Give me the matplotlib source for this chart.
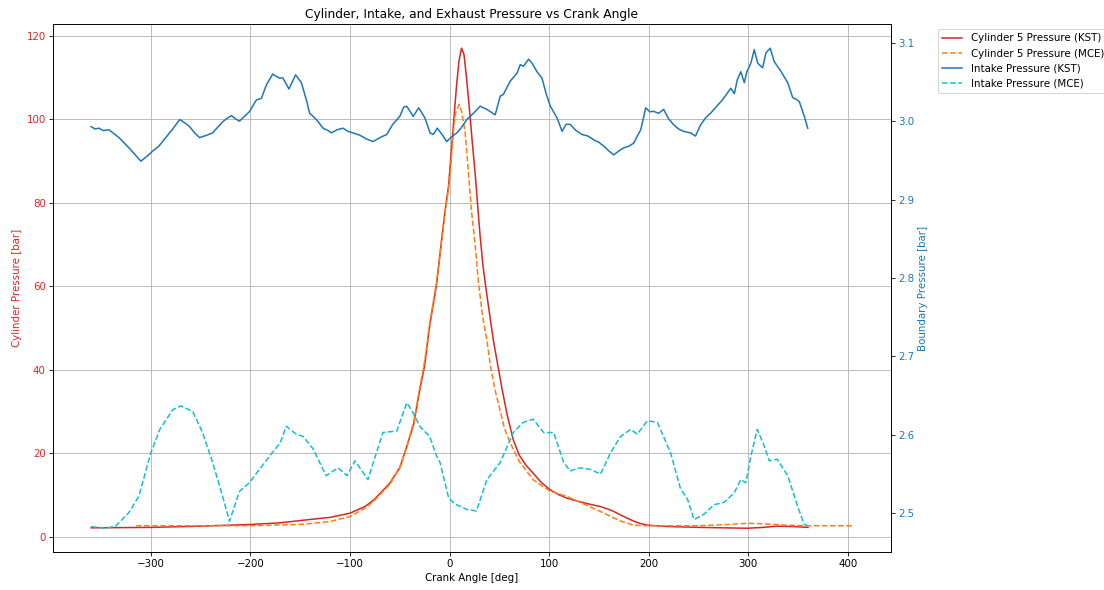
import matplotlib
matplotlib.use("Agg")
import matplotlib.pyplot as plt

# crank angle [deg] / pressure [bar]
cyl_kst_deg = [-360, -300, -250, -200, -170, -144, -120, -100, -85, -76, -60, -50, -43, -36, -30,
               -25, -20, -13, -8, -4.5, -1, 1, 4, 7, 9.5, 12, 14.5, 17, 20.5, 23, 25.7, 28, 30.7,
               33.5, 36.8, 44, 52.6, 58, 64, 70, 77, 84, 92, 101, 110, 118, 130, 140, 151.6, 160, 165,
               175, 185, 192, 200, 220, 252, 275, 299, 315, 329, 345, 360]
cyl_kst_p = [2.1, 2.2, 2.5, 2.9, 3.3, 4.0, 4.6, 5.6, 7.2, 8.8, 12.8, 16.5, 21.5, 27, 35,
             41, 50.5, 60.5, 71, 78, 84, 90, 99, 108, 114, 117, 115.5, 110, 101, 94, 87, 80, 72,
             65, 59, 47, 35.5, 29, 23.2, 19.5, 17, 15.2, 13, 11.2, 10, 9.2, 8.4, 7.8, 7.2, 6.5, 6.0,
             4.8, 3.7, 3.1, 2.7, 2.4, 2.2, 2.1, 2.0, 2.2, 2.5, 2.4, 2.2]

cyl_mce_deg = [-315, -250, -200, -150, -120, -100, -85, -76, -60, -50, -43, -36, -30, -25, -20,
               -13, -8, -4.5, -1.2, 1, 3.8, 6, 9.6, 12, 15.6, 18, 20, 22, 25.7, 29, 33, 37.5, 41,
               45.8, 51, 55, 61, 70, 84, 100, 118, 135, 151.6, 162, 172, 185, 200, 250, 280, 300,
               320, 340, 360, 405]
cyl_mce_p = [2.6, 2.6, 2.6, 2.9, 3.6, 4.8, 6.8, 8.5, 12.5, 16.5, 21.5, 27.5, 35.5, 42, 51,
             61, 71, 78, 83, 88, 97, 101.5, 103.5, 102, 97, 90, 84, 78, 70, 61, 53, 47, 41,
             35, 30, 26, 22.4, 18, 13.6, 11, 9.6, 7.8, 6.0, 4.8, 3.7, 2.7, 2.6, 2.6, 2.9, 3.2,
             3.0, 2.7, 2.6, 2.6]

intake_kst_deg = [-360, -356, -352, -348, -342, -337, -332, -322, -310, -304, -298, -292, -285,
                  -278, -271, -266, -261, -256, -251, -244, -238, -233, -228, -223, -219, -215,
                  -211, -206, -201, -194, -189, -184, -177.6, -174, -170.8, -167.4, -161.3, -158,
                  -154.6, -148.8, -143.8, -140.5, -137, -133.7, -127, -122, -118.6, -113, -107,
                  -102, -97, -90, -83, -76.7, -70, -63, -57, -50, -46, -43, -36.5, -31, -24.7,
                  -19.6, -16.3, -12.3, -7, -2.8, 2, 7.3, 12, 17.3, 24, 30.7, 37.5, 41, 45.8, 50.9,
                  54, 60.9, 67.7, 71, 74.3, 79.4, 82.8, 87.8, 92.8, 97, 101.2, 108, 113, 117, 121,
                  127, 133, 139, 145, 150, 155, 160, 165, 170, 175, 180, 185, 189, 192, 197, 201,
                  205, 210, 215, 220, 225, 230, 235, 242, 247, 252, 257, 262, 267, 274, 282.5, 286,
                  289, 292.5, 296, 298.6, 302.6, 306, 309.4, 314.4, 317.7, 322, 326, 333, 339.6,
                  344.6, 348, 351.2, 356.3, 359.7]
intake_kst_p = [2.993, 2.990, 2.991, 2.988, 2.989, 2.984, 2.979, 2.966, 2.949, 2.955, 2.962, 2.968,
                2.979, 2.990, 3.002, 2.998, 2.993, 2.985, 2.979, 2.982, 2.985, 2.992, 2.999, 3.004,
                3.007, 3.003, 3.000, 3.006, 3.012, 3.027, 3.029, 3.046, 3.060, 3.057, 3.055, 3.055,
                3.041, 3.050, 3.059, 3.049, 3.027, 3.010, 3.006, 3.002, 2.991, 2.988, 2.985, 2.989,
                2.991, 2.987, 2.985, 2.982, 2.977, 2.974, 2.979, 2.983, 2.996, 3.006, 3.018, 3.019,
                3.006, 3.017, 3.004, 2.985, 2.983, 2.991, 2.982, 2.974, 2.980, 2.985, 2.992, 3.002,
                3.010, 3.019, 3.015, 3.012, 3.008, 3.032, 3.034, 3.051, 3.061, 3.072, 3.070, 3.079,
                3.074, 3.063, 3.055, 3.035, 3.019, 3.004, 2.987, 2.996, 2.996, 2.988, 2.983, 2.981,
                2.976, 2.973, 2.968, 2.962, 2.957, 2.962, 2.966, 2.968, 2.972, 2.982, 2.989, 3.017,
                3.012, 3.0125, 3.010, 3.015, 3.003, 2.9955, 2.990, 2.987, 2.985, 2.981, 2.995,
                3.004, 3.010, 3.017, 3.027, 3.042, 3.035, 3.053, 3.063, 3.049, 3.063, 3.074, 3.091,
                3.074, 3.068, 3.087, 3.093, 3.076, 3.063, 3.049, 3.030, 3.028, 3.025, 3.006, 2.991]

intake_mce_deg = [-360, -345, -335, -322, -312, -300, -291, -278, -270, -258, -248, -238, -228,
                  -221, -211, -201, -191, -177, -170, -164, -154, -147, -137, -124, -112, -103,
                  -95, -82, -67, -53, -43, -36, -30, -20, -13, -9.6, -1, 5, 10.6, 17, 27, 37.5, 51,
                  64, 74, 84, 94.5, 104.5, 114.6, 121, 131, 141.5, 151.6, 161.6, 171.7, 181.8,
                  188.5, 198.6, 208.7, 222, 232, 239, 245.5, 255.6, 265.7, 275.7, 285.8, 292.5,
                  297.6, 302.6, 309, 316, 321, 329, 339.6, 349.6, 356, 360]
intake_mce_p = [2.483, 2.481, 2.484, 2.501, 2.522, 2.577, 2.607, 2.632, 2.637, 2.630, 2.603, 2.565,
                2.522, 2.490, 2.528, 2.539, 2.556, 2.579, 2.590, 2.611, 2.601, 2.598, 2.582, 2.548,
                2.558, 2.548, 2.567, 2.543, 2.603, 2.605, 2.641, 2.627, 2.611, 2.598, 2.573, 2.565,
                2.520, 2.512, 2.509, 2.505, 2.503, 2.543, 2.565, 2.603, 2.616, 2.620, 2.603, 2.603,
                2.565, 2.554, 2.558, 2.556, 2.550, 2.577, 2.598, 2.607, 2.601, 2.618, 2.616, 2.577,
                2.531, 2.518, 2.492, 2.499, 2.511, 2.514, 2.526, 2.543, 2.539, 2.573, 2.607, 2.586,
                2.567, 2.569, 2.548, 2.509, 2.486, 2.484]

DPI = 73.6
fig, ax1 = plt.subplots(figsize=(1104 / DPI, 590 / DPI), dpi=DPI)
fig.subplots_adjust(left=0.048, right=0.807, top=0.959, bottom=0.064)

l1, = ax1.plot(cyl_kst_deg, cyl_kst_p, color='tab:red', label='Cylinder 5 Pressure (KST)')
l2, = ax1.plot(cyl_mce_deg, cyl_mce_p, color='tab:orange', linestyle='--', label='Cylinder 5 Pressure (MCE)')
ax1.set_xlabel('Crank Angle [deg]')
ax1.set_ylabel('Cylinder Pressure [bar]', color='tab:red')
ax1.tick_params(axis='y', labelcolor='tab:red')
ax1.grid(True)

ax2 = ax1.twinx()
l3, = ax2.plot(intake_kst_deg, intake_kst_p, color='tab:blue', label='Intake Pressure (KST)')
l4, = ax2.plot(intake_mce_deg, intake_mce_p, color='tab:cyan', linestyle='--', label='Intake Pressure (MCE)')
ax2.set_ylabel('Boundary Pressure [bar]', color='tab:blue')
ax2.tick_params(axis='y', labelcolor='tab:blue')

lines = [l1, l2, l3, l4]
ax1.legend(lines, [l.get_label() for l in lines], bbox_to_anchor=(1.05, 1), loc='upper left')
plt.title('Cylinder, Intake, and Exhaust Pressure vs Crank Angle')

plt.savefig('out.png', dpi=DPI)
